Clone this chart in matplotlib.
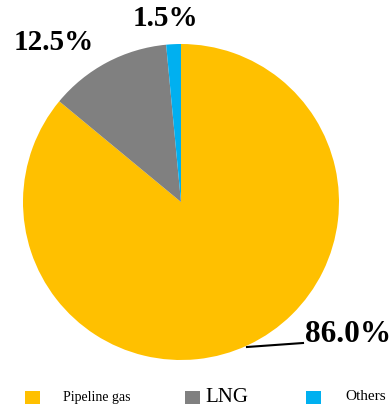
import numpy as np
import matplotlib.pyplot as plt
from matplotlib.patches import Rectangle

# gas supply shares
sources = ["Pipeline gas", "LNG", "Others"]
shares = [86.0, 12.5, 1.5]
colors = ["#FFC000", "#808080", "#00B0F0"]

fig = plt.figure(figsize=(3.91, 4.07), dpi=100)
W, H = 391, 407
# pie: centre (181, 202), radius 158 px
r = 158
ax = fig.add_axes([(181 - r) / W, 1 - (202 + r) / H, 2 * r / W, 2 * r / H])
ax.pie(shares, colors=colors, startangle=90, counterclock=False,
       wedgeprops=dict(linewidth=0))
ax.set_xlim(-1, 1)
ax.set_ylim(-1, 1)
ax.set_aspect("equal")
ax.axis("off")

font = dict(family="Liberation Serif", fontweight="bold")
# percentage labels
fig.text(305 / W, 1 - 334 / H, f"{shares[0]:.1f}%", ha="left", va="center",
         fontsize=22.5, **font)
fig.text(54 / W, 1 - 42 / H, f"{shares[1]:.1f}%", ha="center", va="center",
         fontsize=21, **font)
fig.text(165 / W, 1 - 19 / H, f"{shares[2]:.1f}%", ha="center", va="center",
         fontsize=21, **font)
# leader line for the big wedge
fig.add_artist(plt.Line2D([247 / W, 303 / W], [1 - 347 / H, 1 - 343 / H],
                          color="black", linewidth=1.5))

# legend row along the bottom
leg_x = [(25, 63, 10), (185, 205, 15), (306, 345, 11)]
for (bx, tx, fs), name, c in zip(leg_x, sources, colors):
    fig.add_artist(Rectangle((bx / W, 1 - 404 / H), 15 / W, 13 / H,
                             facecolor=c, edgecolor="none"))
    fig.text(tx / W, 1 - 397 / H, name, ha="left", va="center",
             family="Liberation Serif", fontsize=fs)

fig.savefig("out.png", dpi=100)
